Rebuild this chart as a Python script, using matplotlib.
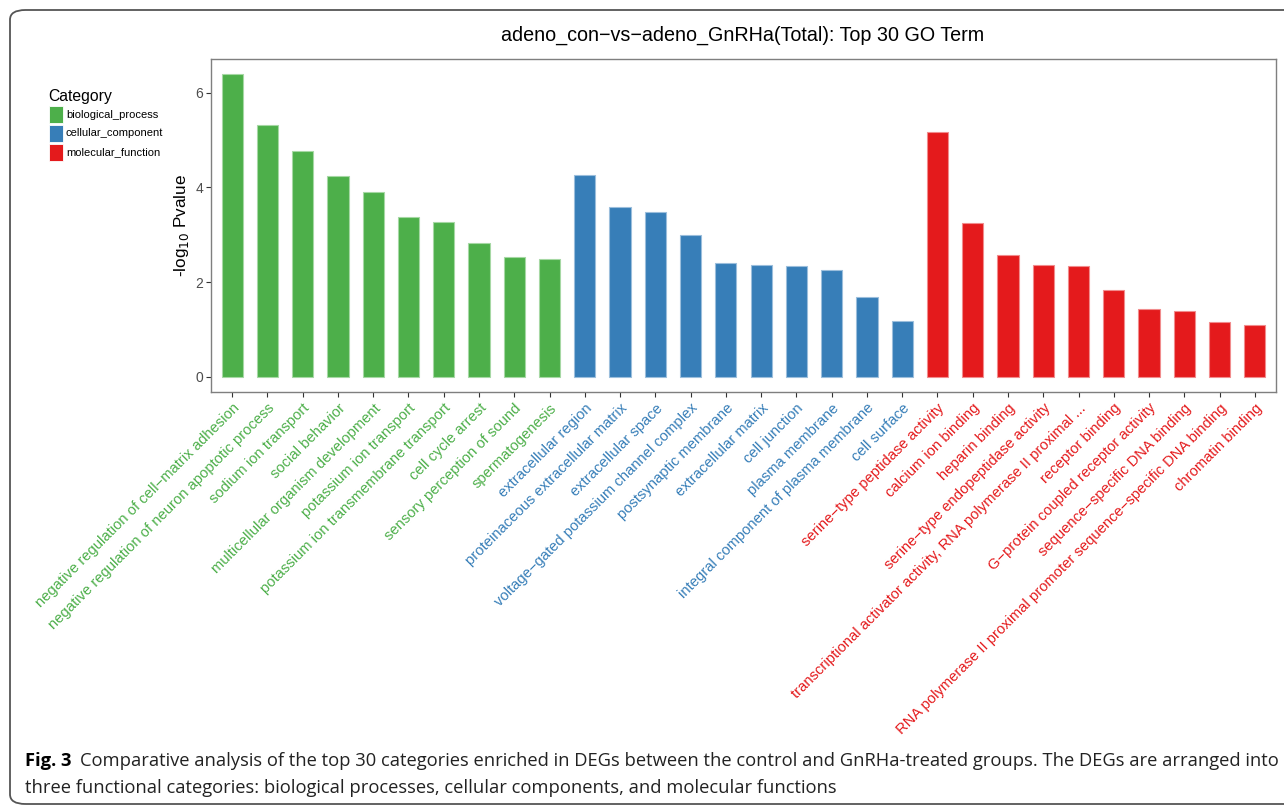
import matplotlib
matplotlib.use("Agg")
import matplotlib.pyplot as plt
from matplotlib.patches import FancyBboxPatch, Rectangle

# GO terms, grouped by category, with -log10(p) values
bp_terms = [
    "negative regulation of cell\u2212matrix adhesion",
    "negative regulation of neuron apoptotic process",
    "sodium ion transport",
    "social behavior",
    "multicellular organism development",
    "potassium ion transport",
    "potassium ion transmembrane transport",
    "cell cycle arrest",
    "sensory perception of sound",
    "spermatogenesis",
]
bp_values = [6.39, 5.31, 4.77, 4.23, 3.90, 3.37, 3.26, 2.83, 2.54, 2.49]

cc_terms = [
    "extracellular region",
    "proteinaceous extracellular matrix",
    "extracellular space",
    "voltage\u2212gated potassium channel complex",
    "postsynaptic membrane",
    "extracellular matrix",
    "cell junction",
    "plasma membrane",
    "integral component of plasma membrane",
    "cell surface",
]
cc_values = [4.26, 3.58, 3.47, 3.00, 2.41, 2.36, 2.34, 2.26, 1.69, 1.18]

mf_terms = [
    "serine\u2212type peptidase activity",
    "calcium ion binding",
    "heparin binding",
    "serine\u2212type endopeptidase activity",
    "transcriptional activator activity, RNA polymerase II proximal ...",
    "receptor binding",
    "G\u2212protein coupled receptor activity",
    "sequence\u2212specific DNA binding",
    "RNA polymerase II proximal promoter sequence\u2212specific DNA binding",
    "chromatin binding",
]
mf_values = [5.17, 3.25, 2.57, 2.37, 2.35, 1.84, 1.43, 1.40, 1.16, 1.10]

categories = ["biological_process", "cellular_component", "molecular_function"]
cat_colors = ["#4DAF4A", "#377EB8", "#E41A1C"]
edge_colors = ["#A6D8A4", "#9BBEDC", "#F18C8D"]

y_ticks = [0, 2, 4, 6]

plt.rcParams["font.family"] = ["Liberation Sans", "DejaVu Sans"]

W, H = 1284, 808
fig = plt.figure(figsize=(W / 100, H / 100), dpi=100)

# rounded frame around the figure panel
frame = FancyBboxPatch((10 / W, 4 / H), (W + 40) / W, (H - 10 - 4) / H,
                       boxstyle="round,pad=0,rounding_size=0.012",
                       transform=fig.transFigure, fill=False,
                       edgecolor="#555555", linewidth=1.3, clip_on=False)
fig.add_artist(frame)

ax = fig.add_axes([211 / W, 1 - 392 / H, (1276 - 211) / W, (392 - 59) / H])

groups = [(bp_terms, bp_values), (cc_terms, cc_values), (mf_terms, mf_values)]
labels, label_colors = [], []
pos = 0
for (terms, vals), col, ecol in zip(groups, cat_colors, edge_colors):
    xs = list(range(pos, pos + len(terms)))
    ax.bar(xs, vals, width=0.6, color=col, edgecolor=ecol, linewidth=0.8)
    labels += terms
    label_colors += [col] * len(terms)
    pos += len(terms)

n = len(labels)
ax.set_xlim(-0.6, n - 1 + 0.6)
ax.set_ylim(-0.32, 6.71)
ax.set_xticks(range(n))
ax.set_xticklabels(labels, rotation=45, ha="right", va="top",
                   rotation_mode="anchor", fontsize=10.6)
for t, c in zip(ax.get_xticklabels(), label_colors):
    t.set_color(c)
ax.set_yticks(y_ticks)
ax.set_yticklabels([str(v) for v in y_ticks], fontsize=10, color="#4D4D4D")
ax.tick_params(axis="both", length=3.5, width=0.8, color="#333333", pad=3)
ax.tick_params(axis="y", pad=2)
for s in ax.spines.values():
    s.set_color("#7F7F7F")
    s.set_linewidth(1.0)
ax.set_ylabel("-log$_{10}$ Pvalue", fontsize=12.3, labelpad=3)

fig.text(743 / W, 1 - 35 / H,
         "adeno_con\u2212vs\u2212adeno_GnRHa(Total): Top 30 GO Term",
         ha="center", va="center", fontsize=14.2)

# legend
fig.text(48 / W, 1 - 96 / H, "Category", ha="left", va="center", fontsize=11.3)
for i, (cat, col) in enumerate(zip(categories, cat_colors)):
    y0 = 106 + i * 19
    fig.add_artist(Rectangle((49 / W, 1 - (y0 + 17) / H), 14 / W, 17 / H,
                             transform=fig.transFigure, facecolor=col,
                             edgecolor="white", linewidth=0.6))
    fig.text(66 / W, 1 - (y0 + 8.5) / H, cat, ha="left", va="center", fontsize=8)

# caption
cap_font = ["Open Sans", "DejaVu Sans"]
fig.canvas.draw()
r = fig.canvas.get_renderer()
bold = fig.text(25 / W, 1 - 761 / H, "Fig. 3", ha="left", va="center",
                fontsize=13.2, fontweight="bold", family=cap_font)
bb = bold.get_window_extent(renderer=r)
fig.text((bb.x1 + 8) / W, 1 - 761 / H,
         "Comparative analysis of the top 30 categories enriched in DEGs between the control "
         "and GnRHa-treated groups. The DEGs are arranged into",
         ha="left", va="center", fontsize=13.25, family=cap_font, color="#222222")
fig.text(25 / W, 1 - 788 / H,
         "three functional categories: biological processes, cellular components, and molecular functions",
         ha="left", va="center", fontsize=13.25, family=cap_font, color="#222222")

fig.savefig("out.png", dpi=100)
